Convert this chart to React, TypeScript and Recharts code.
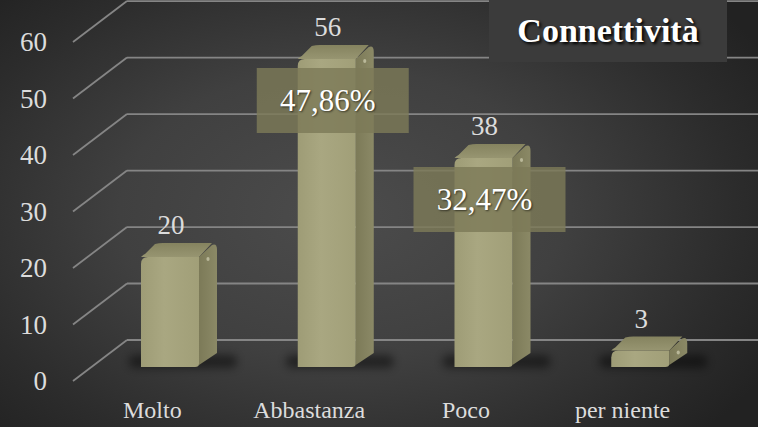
import { BarChart, Bar, XAxis, YAxis, CartesianGrid, LabelList } from 'recharts';

const categories = ['Molto', 'Abbastanza', 'Poco', 'per niente'];
const counts = [20, 56, 38, 3];
const percentLabels = ['', '47,86%', '32,47%', ''];
const yTicks = [0, 10, 20, 30, 40, 50, 60];

const chartData = categories.map((name, i) => ({
  name,
  count: counts[i],
  pct: percentLabels[i]
}));

const W = 758;
const H = 427;
const PLOT_TOP = 37;
const PLOT_BOTTOM = 367;
const DX = 18;
const DY = 14;
const FONT = 'Liberation Serif, Times New Roman, DejaVu Serif, serif';

// perspective helpers: front (bar) plane -> back wall / label plane
const backY = (y: number) => y - 27 - (PLOT_BOTTOM - y) * 0.027;
const labelY = (y: number) => y + 14 - (PLOT_BOTTOM - y) * 0.027;

// grid line = diagonal on the side wall + line on the back wall + tick label
function GridLine(props: any) {
  const y = props.y1;
  const by = backY(y);
  const ly = labelY(y);
  const value = Math.round(60 * (PLOT_BOTTOM - y) / (PLOT_BOTTOM - PLOT_TOP));
  return (
    <g key={props.key}>
      <line x1={73} y1={ly} x2={127} y2={by} stroke="#858585" strokeWidth={1.8} />
      <line x1={127} y1={by} x2={W} y2={by} stroke="#858585" strokeWidth={1.8} />
      <text
        x={47}
        y={ly}
        textAnchor="end"
        dominantBaseline="central"
        fill="#dcdcdc"
        fontSize={27}
        fontFamily={FONT}
      >
        {value}
      </text>
    </g>
  );
}

function XTick(props: any) {
  const { x, payload } = props;
  return (
    <text
      x={x - 18}
      y={410}
      textAnchor="middle"
      dominantBaseline="central"
      fill="#dcdcdc"
      fontSize={24}
      fontFamily={FONT}
    >
      {payload.value}
    </text>
  );
}

function Bar3D(props: any) {
  const { x, y, width: w, height: h } = props;
  const bottom = y + h;
  const r = Math.min(7, h / 2);
  const front = `M${x},${bottom} L${x},${y + r} Q${x},${y} ${x + r},${y} L${x + w},${y} L${x + w},${bottom - 3} Q${x + w},${bottom} ${x + w - 4},${bottom} Z`;
  const side = `M${x + w},${y} L${x + w + DX - 5},${y - DY + 2} Q${x + w + DX},${y - DY} ${x + w + DX},${y - DY + 7} L${x + w + DX},${bottom - DY} L${x + w},${bottom - 2} Z`;
  const top = `M${x},${y} Q${x + 2},${y - 2} ${x + 4},${y - 3} L${x + DX - 4},${y - DY + 1} Q${x + DX},${y - DY} ${x + DX + 4},${y - DY} L${x + w + DX - 5},${y - DY} L${x + w},${y} Z`;
  return (
    <g>
      <rect
        x={x - 12}
        y={bottom - 12}
        width={w + DX + 32}
        height={13}
        rx={6}
        fill="#000"
        opacity={0.45}
        filter="url(#shadowBlur)"
      />
      <path d={top} fill="url(#topGrad)" />
      <path d={side} fill="url(#sideGrad)" />
      <path d={front} fill="url(#frontGrad)" />
      <ellipse cx={x + w + DX / 2} cy={y + 2} rx={1.6} ry={2} fill="#dedcc0" opacity={0.6} />
    </g>
  );
}

function ValueLabel(props: any) {
  const { x, y, width, value } = props;
  return (
    <text
      x={x + width / 2 + 1}
      y={y - 32}
      textAnchor="middle"
      dominantBaseline="central"
      fill="#dcdcdc"
      fontSize={27}
      fontFamily={FONT}
    >
      {value}
    </text>
  );
}

function PctLabel(props: any) {
  const { x, y, width, value } = props;
  if (!value) return null;
  const cx = x + width / 2 + 6;
  return (
    <g>
      <rect x={cx - 76} y={y + 9} width={152} height={65} fill="#7c7a58" opacity={0.82} />
      <text
        x={cx - 5}
        y={y + 41}
        textAnchor="middle"
        dominantBaseline="central"
        fill="#ffffff"
        fontSize={31}
        fontFamily={FONT}
        style={{ textShadow: '1px 1px 2px rgba(0,0,0,0.6)' }}
      >
        {value}
      </text>
    </g>
  );
}

export default function App() {
  return (
    <div
      style={{
        position: 'relative',
        width: W,
        height: H,
        background: 'radial-gradient(ellipse 65% 75% at 45% 50%, #4c4c4c 0%, #404040 45%, #2c2c2c 80%, #222 100%)',
        overflow: 'hidden'
      }}
    >
      <style>{'body{margin:0}'}</style>
      <BarChart
        width={W}
        height={H}
        data={chartData}
        margin={{ top: PLOT_TOP, right: 39, bottom: 30, left: 92 }}
      >
        <defs>
          <linearGradient id="frontGrad" x1="0" y1="0" x2="1" y2="0">
            <stop offset="0%" stopColor="#9e9c76" />
            <stop offset="40%" stopColor="#a9a781" />
            <stop offset="100%" stopColor="#a19f78" />
          </linearGradient>
          <linearGradient id="sideGrad" x1="0" y1="0" x2="1" y2="0">
            <stop offset="0%" stopColor="#7c7a58" />
            <stop offset="100%" stopColor="#8b8966" />
          </linearGradient>
          <linearGradient id="topGrad" x1="0" y1="1" x2="0" y2="0">
            <stop offset="0%" stopColor="#979571" />
            <stop offset="100%" stopColor="#85835f" />
          </linearGradient>
          <filter id="shadowBlur" x="-30%" y="-100%" width="160%" height="300%">
            <feGaussianBlur stdDeviation="4.5" />
          </filter>
        </defs>
        <CartesianGrid vertical={false} horizontal={GridLine} />
        <XAxis
          dataKey="name"
          axisLine={false}
          tickLine={false}
          interval={0}
          height={30}
          tick={XTick}
        />
        <YAxis domain={[0, 60]} ticks={yTicks} hide />
        <Bar dataKey="count" barSize={58} shape={Bar3D} isAnimationActive={false}>
          <LabelList dataKey="count" content={ValueLabel} />
          <LabelList dataKey="pct" content={PctLabel} />
        </Bar>
      </BarChart>
      <div
        style={{
          position: 'absolute',
          left: 489,
          top: 0,
          width: 238,
          height: 62,
          background: '#3b3b3b',
          display: 'flex',
          alignItems: 'center',
          justifyContent: 'center',
          color: '#fff',
          fontFamily: FONT,
          fontWeight: 700,
          fontSize: 34,
          textShadow: '2px 2px 3px #000'
        }}
      >
        Connettività
      </div>
    </div>
  );
}
